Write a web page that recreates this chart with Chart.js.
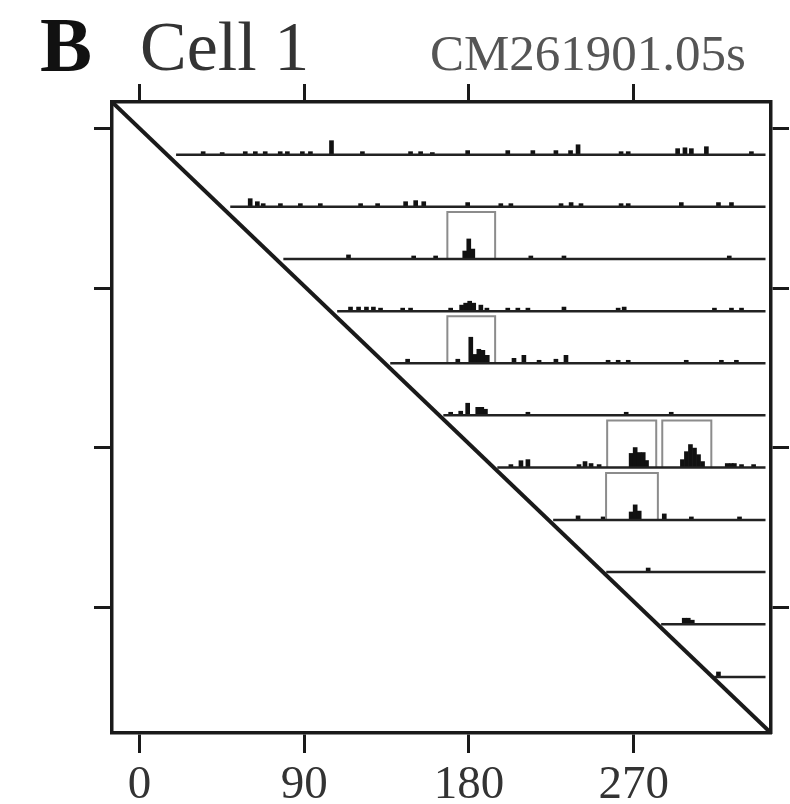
<!DOCTYPE html>
<html>
<head>
<meta charset="utf-8">
<script src="https://cdn.jsdelivr.net/npm/chart.js@4/dist/chart.umd.min.js"></script>
<style>
  body { margin: 0; background: #fff; }
  #wrap { position: relative; width: 790px; height: 804px; }
  .lbl { position: absolute; font-family: "Liberation Serif", "DejaVu Serif", serif; line-height: 1; white-space: nowrap; }
  #panel { left: 40px; top: 6px; font-size: 78px; font-weight: bold; color: #111; }
  #cell { left: 140px; top: 12px; font-size: 70px; color: #333; }
  #cellId { left: 430px; top: 28px; font-size: 51px; color: #555; }
</style>
</head>
<body>
<div id="wrap">
  <canvas id="chart"></canvas>
  <div class="lbl" id="panel">B</div>
  <div class="lbl" id="cell">Cell 1</div>
  <div class="lbl" id="cellId">CM261901.05s</div>
</div>
<script>
// axes (degrees)
const xTicks = [0, 90, 180, 270];
const yTicks = [0, 90, 180, 270];

// one row per trial, stacked down the diagonal
const rowY = [14.7, 44.0, 73.5, 102.9, 132.3, 161.6, 191.1, 220.6, 250.0, 279.4, 309.1];
const rowStart = [20, 49.6, 78.6, 108, 137, 166, 195.5, 226, 255, 285, 314];
const rowEnd = 342;

// spike histograms: [angle, height]
const row1 = [[34.8,1.7],[45.2,1.2],[57.8,1.7],[63.3,1.7],[68.7,1.7],[76.9,1.7],[80.8,1.7],[89,1.7],[93.4,1.7],[104.9,7.9],[121.8,1.7],[148.1,1.7],[153.6,1.7],[160,1.2],[179.3,2.3],[201.2,2.3],[214.9,2.3],[227.5,2.3],[235.5,2.3],[239.6,5.6],[263.1,1.7],[267,1.7],[294,3.4],[298,3.9],[301.5,3.4],[309.7,4.5],[334.3,1.7]];
const row2 = [[60.5,4.5],[64.4,2.8],[67.6,1.7],[77,1.7],[87.9,1.7],[98.8,1.7],[120.8,1.7],[130.1,1.7],[145.4,2.8],[150.9,3.4],[155.3,2.8],[179.3,2.3],[197.4,1.7],[202.9,1.7],[230.3,1.7],[235.8,2.3],[241.2,1.7],[263.1,1.7],[267,1.7],[296,2.3],[316.3,2.3],[323.4,2.3]];
const row3 = [[114.2,2.3],[149.8,1.7],[161.8,1.7],[177.7,4.5],[179.9,11.3],[182.1,5.6],[213.8,1.7],[231.9,1.7],[322.2,1.7]];
const row4 = [[115.3,2.3],[119.7,2.3],[124,2.3],[127.8,2.3],[131.7,1.7],[143.8,1.7],[148.1,1.7],[170,1.7],[176,3.4],[178.2,4.5],[180.4,5.6],[182.6,4.5],[186.5,3.4],[189.8,1.7],[201.2,1.7],[206.7,1.7],[212.2,1.7],[231.9,2.3],[261.5,1.7],[264.8,2.3],[314.1,1.7],[323.4,1.7],[328.9,1.7]];
const row5 = [[146.5,2.3],[173.9,2.3],[181,14.7],[183.2,5],[185.4,7.9],[187.6,7.3],[190,4.5],[204.6,2.8],[210,4.5],[218.3,1.7],[227.5,2.3],[233,4.5],[256,1.7],[261.5,1.7],[267,1.7],[298.7,1.7],[317.9,1.7],[326.1,1.7]];
const row6 = [[170,1.7],[175.5,2.3],[179.3,6.8],[184.8,4.5],[187,4.5],[189,3.4],[212.2,1.7],[265.9,1.7],[290.5,1.7]];
const row7 = [[202.9,1.7],[208.4,3.9],[212.2,4.5],[240.1,1.7],[243.4,3.4],[246.7,2.3],[251.1,1.7],[268.6,8],[270.8,11.3],[273,8.5],[275.2,8.5],[277,4],[296.6,4.5],[298.8,9],[301,13],[303.2,11],[305.4,7.3],[307.6,3.4],[321.1,2.3],[323.3,2.3],[325,2.3],[328.9,1.7],[335.5,1.7]];
const row8 = [[239.6,2.3],[253.3,1.7],[268.6,4.5],[270.8,8.5],[273,5],[286.7,3.4],[301.5,1.7],[327.8,1.7]];
const row9 = [[277.9,2.3]];
const row10 = [[297.6,3.4],[299.8,3.4],[302,2.3]];
const row11 = [[316.3,2.8]];
const rows = [row1, row2, row3, row4, row5, row6, row7, row8, row9, row10, row11];

// highlighted windows: row index, angle range
const boxRow = [2, 4, 6, 6, 7];
const boxFrom = [168.2, 168.2, 255.5, 285.6, 254.9];
const boxTo = [194.3, 194.3, 282.3, 312.4, 283.2];
const boxHeight = 26.5;

const xMin = -15, xMax = 345;
const yMin = -15, yMax = 340.7;

const ink = '#1a1a1a';

const datasets = [];

datasets.push({
  type: 'line',
  data: [{ x: xMin, y: yMin }, { x: xMax, y: yMax }],
  borderColor: ink,
  borderWidth: 4,
  pointRadius: 0
});

rowY.forEach((y, i) => {
  datasets.push({
    type: 'line',
    data: [{ x: rowStart[i], y: y }, { x: rowEnd, y: y }],
    borderColor: '#222',
    borderWidth: 2.5,
    pointRadius: 0
  });
});

boxRow.forEach((r, i) => {
  const base = rowY[r];
  const top = base - boxHeight;
  datasets.push({
    type: 'line',
    data: [
      { x: boxFrom[i], y: base }, { x: boxFrom[i], y: top },
      { x: boxTo[i], y: top }, { x: boxTo[i], y: base }
    ],
    borderColor: '#8c8c8c',
    borderWidth: 2,
    pointRadius: 0,
    tension: 0
  });
});

const bars = [];
rows.forEach((r, i) => {
  r.forEach(p => bars.push({ x: p[0], y: [rowY[i], rowY[i] - p[1]] }));
});
datasets.push({
  type: 'bar',
  data: bars,
  backgroundColor: '#111',
  borderWidth: 0,
  barThickness: 4,
  grouped: false
});

function fixTicks(vals) {
  return scale => { scale.ticks = vals.map(v => ({ value: v })); };
}

const tickGrid = {
  drawOnChartArea: false,
  drawTicks: true,
  tickLength: 18,
  tickWidth: 3,
  tickColor: ink,
  color: ink,
  offset: false
};
const frame = { display: true, width: 3.5, color: ink };

new Chart(document.getElementById('chart'), {
  type: 'bar',
  data: { datasets: datasets },
  options: {
    responsive: true,
    maintainAspectRatio: false,
    animation: false,
    layout: { padding: 0 },
    plugins: { legend: { display: false }, tooltip: { enabled: false } },
    scales: {
      x: {
        type: 'linear', position: 'bottom', min: xMin, max: xMax, offset: false,
        afterBuildTicks: fixTicks(xTicks),
        afterFit: s => { s.height = 71; },
        grid: Object.assign({}, tickGrid, { tickLength: 20 }),
        border: frame,
        ticks: {
          color: '#333', padding: 4, maxRotation: 0,
          font: { family: '"Liberation Serif", serif', size: 47 },
          callback: v => String(v)
        }
      },
      x2: {
        type: 'linear', position: 'top', min: xMin, max: xMax, offset: false,
        afterBuildTicks: fixTicks(xTicks),
        afterFit: s => { s.height = 102; },
        grid: tickGrid, border: frame,
        ticks: { display: false }
      },
      y: {
        type: 'linear', position: 'left', min: yMin, max: yMax, reverse: true,
        afterBuildTicks: fixTicks(yTicks),
        afterFit: s => { s.width = 112; },
        grid: tickGrid, border: frame,
        ticks: { display: false }
      },
      y2: {
        type: 'linear', position: 'right', min: yMin, max: yMax, reverse: true,
        afterBuildTicks: fixTicks(yTicks),
        afterFit: s => { s.width = 19; },
        grid: tickGrid, border: frame,
        ticks: { display: false }
      }
    }
  }
});
</script>
</body>
</html>
